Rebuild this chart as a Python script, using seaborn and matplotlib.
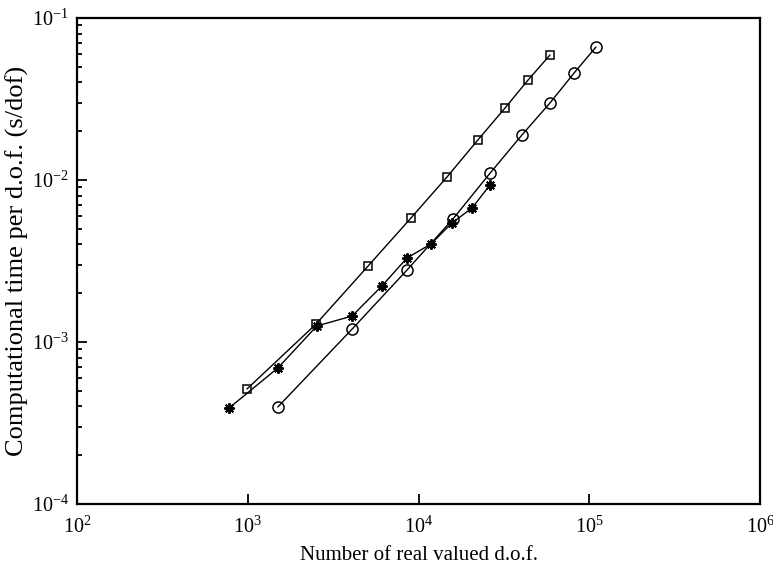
import matplotlib
matplotlib.use("Agg")
import matplotlib.pyplot as plt
import matplotlib.ticker as mticker
import numpy as np
import pandas as pd
import seaborn as sns

# Degrees of freedom and time per d.o.f. for the three solvers
dof_square = [990, 2510, 5060, 9040, 14700, 22300, 32100, 43800, 58900]
time_square = [5.13e-4, 1.29e-3, 2.94e-3, 5.83e-3, 1.045e-2, 1.77e-2, 2.78e-2, 4.14e-2, 5.91e-2]

dof_circle = [1500, 4080, 8560, 15900, 26400, 40400, 58900, 81400, 109500]
time_circle = [3.97e-4, 1.20e-3, 2.78e-3, 5.74e-3, 1.11e-2, 1.90e-2, 2.99e-2, 4.57e-2, 6.62e-2]

dof_star = [777, 1500, 2540, 4080, 6110, 8560, 11840, 15700, 20600, 26200]
time_star = [3.91e-4, 6.91e-4, 1.256e-3, 1.446e-3, 2.22e-3, 3.30e-3, 4.03e-3, 5.43e-3, 6.72e-3, 9.31e-3]

x_label = "Number of real valued d.o.f."
y_label = "Computational time per d.o.f. (s/dof)"

sns.set_theme(style="white")
plt.rcParams["font.family"] = ["Liberation Serif", "DejaVu Serif"]
plt.rcParams["mathtext.fontset"] = "stix"

fig = plt.figure(figsize=(7.73, 5.68), dpi=100)
ax = fig.add_axes([77 / 773, 1 - 504 / 568, (760 - 77) / 773, (504 - 18) / 568])

series = [
    (dof_square, time_square, dict(marker="s", markersize=6.3)),
    (dof_circle, time_circle, dict(marker="o", markersize=8)),
    (dof_star, time_star, dict(marker=(8, 2, 0), markersize=7.5, markeredgewidth=1.4)),
]
for xs, ys, mk in series:
    df = pd.DataFrame({"dof": xs, "time": ys})
    style = dict(markeredgewidth=1.1, markerfacecolor="none", markeredgecolor="black")
    style.update(mk)
    sns.lineplot(data=df, x="dof", y="time", ax=ax, color="black", linewidth=1.0,
                 estimator=None, sort=False, **style)

ax.set_xscale("log")
ax.set_yscale("log")
ax.set_xlim(1e2, 1e6)
ax.set_ylim(1e-4, 1e-1)

ax.xaxis.set_major_locator(mticker.LogLocator(base=10, numticks=10))
ax.xaxis.set_minor_locator(mticker.NullLocator())
ax.yaxis.set_major_locator(mticker.LogLocator(base=10, numticks=10))
ax.yaxis.set_minor_locator(mticker.LogLocator(base=10, subs=np.arange(2, 10), numticks=10))
ax.yaxis.set_minor_formatter(mticker.NullFormatter())

ax.tick_params(which="both", direction="in", bottom=True, left=True, top=False,
               right=False, colors="black", labelsize=14.5)
ax.tick_params(which="major", length=7, width=1.3)
ax.tick_params(which="minor", length=3.5, width=1.3)
ax.tick_params(axis="x", which="major", pad=9)
ax.tick_params(axis="y", which="major", pad=6)

for sp in ax.spines.values():
    sp.set_visible(True)
    sp.set_color("black")
    sp.set_linewidth(1.6)

ax.set_xlabel(x_label, fontsize=15, labelpad=6, color="black")
ax.set_ylabel(y_label, fontsize=19, labelpad=2, color="black")
ax.grid(False)

fig.savefig("out.png", dpi=100, facecolor="white")
